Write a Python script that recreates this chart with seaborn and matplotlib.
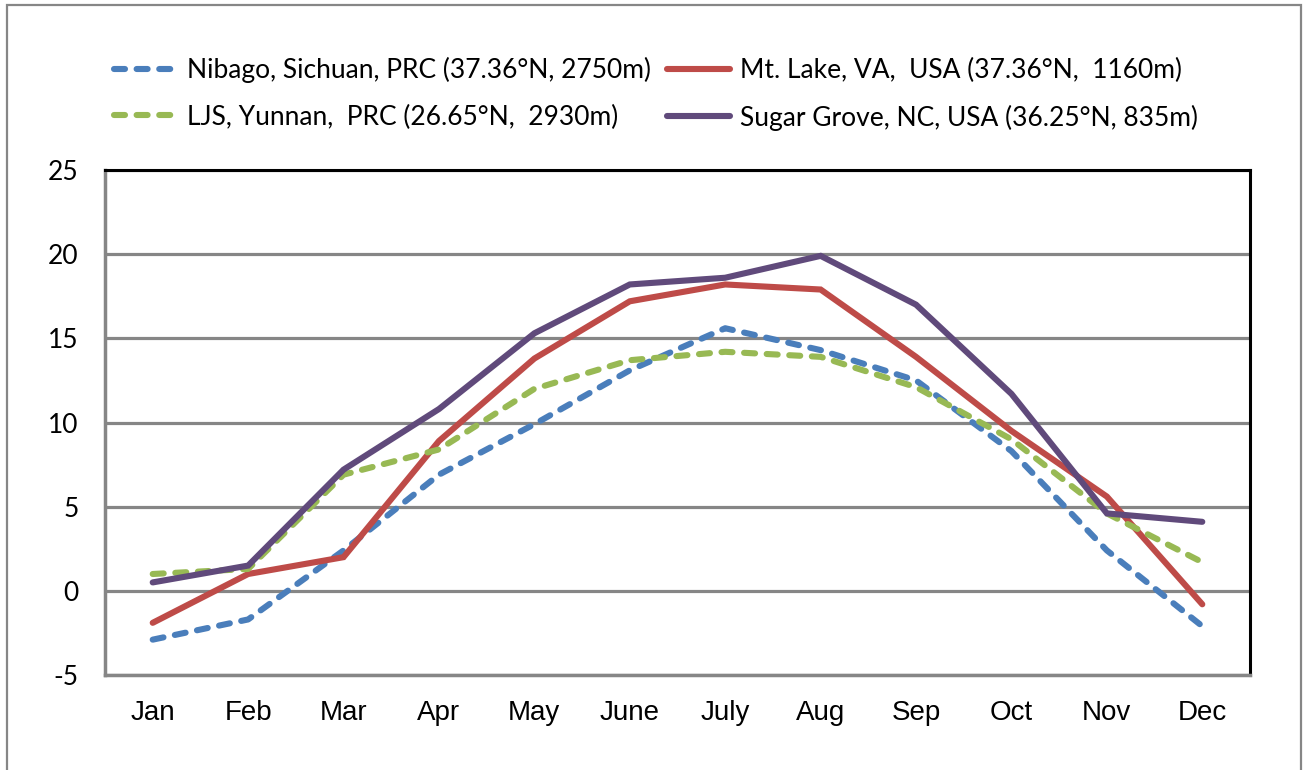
"""Mean monthly temperature, four sites (Excel-style line chart)."""
import matplotlib
matplotlib.use("Agg")
import matplotlib.pyplot as plt
import numpy as np
import pandas as pd
import seaborn as sns
from matplotlib.patches import Rectangle

# Data
months = ["Jan", "Feb", "Mar", "Apr", "May", "June",
          "July", "Aug", "Sep", "Oct", "Nov", "Dec"]
nibago = [-2.9, -1.7, 2.4, 6.9, 9.9, 13.1, 15.6, 14.3, 12.5, 8.3, 2.4, -2.1]
mt_lake = [-1.9, 1.0, 2.0, 8.9, 13.8, 17.2, 18.2, 17.9, 13.9, 9.5, 5.6, -0.8]
ljs = [1.0, 1.3, 6.9, 8.4, 12.0, 13.7, 14.2, 13.9, 12.1, 9.0, 4.6, 1.7]
sugar_grove = [0.5, 1.5, 7.2, 10.8, 15.3, 18.2, 18.6, 19.9, 17.0, 11.7, 4.6, 4.1]

labels = {
    "nibago": "Nibago, Sichuan, PRC (37.36°N, 2750m)",
    "mt_lake": "Mt. Lake, VA,  USA (37.36°N,  1160m)",
    "ljs": "LJS, Yunnan,  PRC (26.65°N,  2930m)",
    "sugar_grove": "Sugar Grove, NC, USA (36.25°N, 835m)",
}

# (key, values, colour, dashed)
SERIES = [
    ("nibago", nibago, "#4A7EBB", True),
    ("mt_lake", mt_lake, "#BE4B48", False),
    ("ljs", ljs, "#98B954", True),
    ("sugar_grove", sugar_grove, "#604A7B", False),
]

GRID = "#868686"

sns.set_style("white")
plt.rcParams["font.family"] = ["Lato", "DejaVu Sans"]
plt.rcParams["text.color"] = "black"
plt.rcParams["axes.unicode_minus"] = False

fig = plt.figure(figsize=(13.05, 7.7), dpi=100)
ax = fig.add_axes([105 / 1305, 1 - 675 / 770, 1145 / 1305, 505 / 770])

x = np.arange(len(months))
handles = {}
for key, vals, color, dashed in SERIES:
    df = pd.DataFrame({"month": x, "temp": vals})
    sns.lineplot(data=df, x="month", y="temp", ax=ax, color=color,
                 linewidth=4.4, label=labels[key], zorder=3)
    line = ax.lines[-1]
    line.set_solid_capstyle("round")
    line.set_solid_joinstyle("miter")
    if dashed:
        line.set_dashes([1.8, 1.9])
        line.set_dash_capstyle("round")
    handles[key] = line

# axes / grid, Excel look
ax.set_xlim(-0.5, len(months) - 0.5)
ax.set_ylim(-5, 25)
ax.set_yticks(np.arange(-5, 26, 5))
ax.yaxis.grid(True, color=GRID, linewidth=2.3)
ax.set_axisbelow(True)
ax.set_xlabel("")
ax.set_ylabel("")

ax.set_xticks(x)
ax.set_xticklabels(months)
ax.set_xticks(np.arange(-0.5, len(months), 1), minor=True)
ax.tick_params(axis="x", which="major", length=0, pad=18, labelsize=20,
               labelcolor="black")
ax.tick_params(axis="x", which="minor", length=7, width=2.3, color=GRID,
               direction="out")
ax.tick_params(axis="y", length=0, pad=19, labelsize=19, labelcolor="black")
for t in ax.get_xticklabels():
    t.set_fontfamily(["Liberation Sans", "DejaVu Sans"])

for side in ("left", "bottom"):
    ax.spines[side].set_color(GRID)
    ax.spines[side].set_linewidth(2.5)
for side in ("top", "right"):
    ax.spines[side].set_color("black")
    ax.spines[side].set_linewidth(2.2)

# legend: two rows, two columns (column-major order in matplotlib)
order = ["nibago", "ljs", "mt_lake", "sugar_grove"]
ax.get_legend().remove()
fig.legend([handles[k] for k in order], [labels[k] for k in order],
           ncol=2, loc="center", bbox_to_anchor=(656 / 1305, 1 - 94 / 770),
           frameon=False, fontsize=19, handlelength=2.4, handletextpad=0.38,
           columnspacing=0.6, labelspacing=0.8)

# outer chart-area border
fig.patches.append(Rectangle((7 / 1305, -0.05), 1294 / 1305, 1.05 - 5 / 770,
                             transform=fig.transFigure, fill=False,
                             edgecolor=GRID, linewidth=1.6))

fig.savefig("out.png", dpi=100)
